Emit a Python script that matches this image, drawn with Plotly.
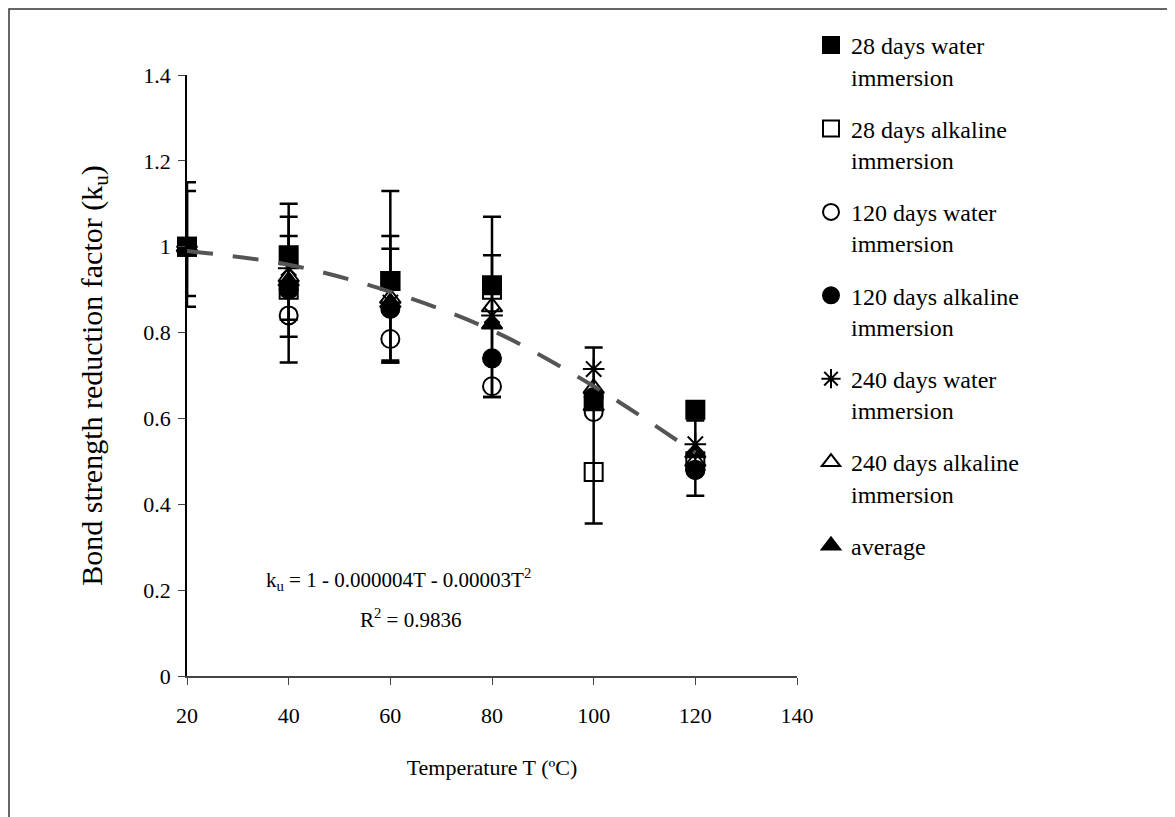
import plotly.graph_objects as go

# ---------------- data ----------------
temps = [20, 40, 60, 80, 100, 120]

w28 = [1.0, 0.98, 0.92, 0.91, 0.64, 0.62]      # 28 days water immersion
a28 = [1.0, 0.90, 0.92, 0.90, 0.475, 0.50]     # 28 days alkaline immersion
w120 = [1.0, 0.84, 0.785, 0.675, 0.615, 0.48]  # 120 days water immersion
a120 = [1.0, 0.90, 0.855, 0.74, 0.65, 0.48]    # 120 days alkaline immersion
w240 = [1.0, 0.95, 0.87, 0.84, 0.715, 0.54]    # 240 days water immersion
a240 = [1.0, 0.93, 0.88, 0.86, 0.67, 0.50]     # 240 days alkaline immersion
avg = [1.0, 0.92, 0.87, 0.82, 0.63, 0.52]      # average

# error bars (None = no bar at that temperature)
w28_err_plus = [0.15, 0.12, 0.21, 0.16, 0.125, None]
w28_err_minus = [0.14, 0.25, 0.19, 0.26, 0.285, None]
avg_err_plus = [0.13, 0.15, 0.155, 0.16, None, 0.075]
avg_err_minus = [0.115, 0.13, 0.135, 0.17, None, 0.10]
a240_err_plus = [None, 0.095, 0.115, None, None, None]
a240_err_minus = [None, 0.10, 0.15, None, None, None]

# trend line
trend_T = [20, 40, 60, 80, 100, 120]
trend_k = [0.99, 0.958, 0.895, 0.805, 0.675, 0.52]

names = ["28 days water<br>immersion", "28 days alkaline<br>immersion",
         "120 days water<br>immersion", "120 days alkaline<br>immersion",
         "240 days water<br>immersion", "240 days alkaline<br>immersion",
         "average"]

FONT = "Liberation Serif"
fig = go.Figure()

def add_err(vals, plus, minus):
    xs, ys, ps, ms = [], [], [], []
    for t, v, p, m in zip(temps, vals, plus, minus):
        if p is not None:
            xs.append(t); ys.append(v); ps.append(p); ms.append(m)
    fig.add_trace(go.Scatter(
        x=xs, y=ys, mode="markers", showlegend=False, hoverinfo="skip",
        cliponaxis=False, marker=dict(size=1, opacity=0),
        error_y=dict(type="data", symmetric=False, array=ps, arrayminus=ms,
                     color="black", thickness=2.5, width=9)))

add_err(w28, w28_err_plus, w28_err_minus)
add_err(avg, avg_err_plus, avg_err_minus)
add_err(a240, a240_err_plus, a240_err_minus)

series = [w28, a28, w120, a120, w240, a240, avg]
symbols = ["square", "square-open", "circle-open", "circle",
           "asterisk-open", "triangle-up-open", "triangle-up"]
for i, (vals, sym) in enumerate(zip(series, symbols)):
    fig.add_trace(go.Scatter(
        x=temps, y=vals, mode="markers", name=names[i],
        legendgroup=f"g{i}", cliponaxis=False,
        marker=dict(symbol=sym, size=18, color="black",
                    line=dict(color="black", width=2))))

fig.add_trace(go.Scatter(
    x=trend_T, y=trend_k, mode="lines", showlegend=False, hoverinfo="skip",
    cliponaxis=False,
    line=dict(color="#555555", width=4, dash="26px,20px", shape="spline")))

L, R, T, B = 179, 386, 67, 149
W, H = 1175, 817
pw, ph = W - L - R, H - T - B

def px(xp):
    return (xp - L) / pw

def py(yp):
    return (H - B - yp) / ph

fig.update_layout(
    width=W, height=H,
    margin=dict(l=L, r=R, t=T, b=B, autoexpand=False),
    paper_bgcolor="white", plot_bgcolor="white",
    font=dict(family=FONT, size=22, color="black"),
    showlegend=True,
    legend=dict(x=px(803), y=py(15), xanchor="left", yanchor="top",
                font=dict(family=FONT, size=24, color="black"),
                valign="top", tracegroupgap=18, bgcolor="rgba(0,0,0,0)",
                maxheight=800, itemsizing="trace"),
    xaxis=dict(range=[20, 140], dtick=20, tick0=20, showgrid=False,
               zeroline=False, showline=True, linecolor="#444444", linewidth=1.5,
               ticks="outside", ticklen=7, tickcolor="#444444",
               ticklabelstandoff=12,
               tickfont=dict(family=FONT, size=22),
               title=dict(text="Temperature T (ºC)", standoff=32,
                          font=dict(family=FONT, size=22))),
    yaxis=dict(range=[0, 1.4], dtick=0.2, showgrid=False, zeroline=False,
               showline=True, linecolor="black", linewidth=1.5,
               ticks="outside", ticklen=7, tickcolor="#444444",
               ticklabelstandoff=3,
               tickfont=dict(family=FONT, size=22),
               title=dict(text="Bond strength reduction factor (k<sub>u</sub>)",
                          standoff=32, font=dict(family=FONT, size=30))),
    annotations=[
        dict(x=px(390), y=py(588), xref="paper", yref="paper", showarrow=False,
             text="k<sub>u</sub> = 1 - 0.000004T - 0.00003T<sup>2</sup>",
             font=dict(family=FONT, size=21)),
        dict(x=px(402), y=py(626), xref="paper", yref="paper", showarrow=False,
             text="R<sup>2</sup> = 0.9836", font=dict(family=FONT, size=21)),
    ],
    shapes=[dict(type="rect", xref="paper", yref="paper",
                 x0=px(1), x1=px(1190), y0=py(830), y1=py(1),
                 line=dict(color="#333333", width=1.5))],
)

fig.write_html("out.html")
